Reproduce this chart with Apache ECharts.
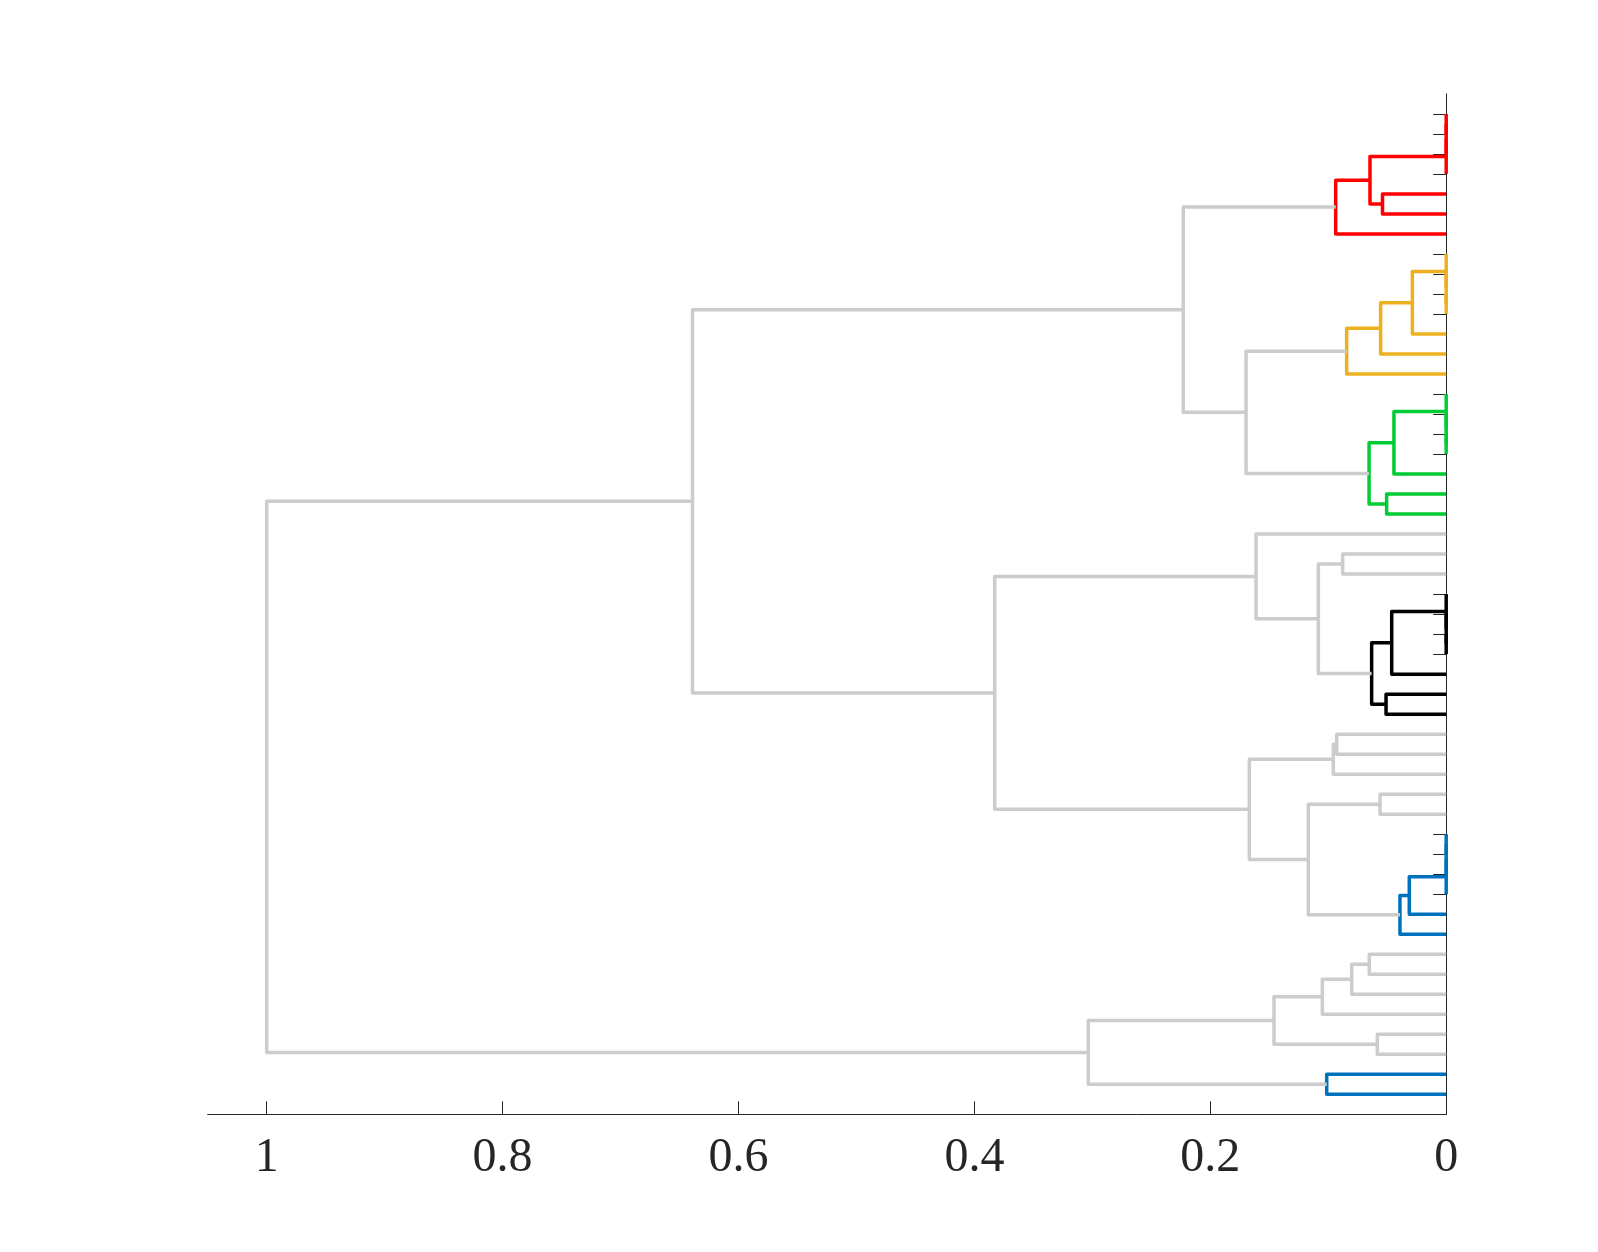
<!DOCTYPE html>
<html>
<head>
<meta charset="utf-8">
<script src="https://cdn.jsdelivr.net/npm/echarts@6/dist/echarts.min.js"></script>
<style>
  html, body { margin: 0; padding: 0; background: #fff; }
  #chart { width: 1598px; height: 1252px; }
</style>
</head>
<body>
<div id="chart"></div>
<script>
// leaves are numbered by their place on the right axis, 1 = bottom
const leafCount = 50;

// linkage rows [childA, childB, height]; row k makes cluster leafCount + 1 + k
const merges = [
  [50, 49, 0], [51, 48, 0], [52, 47, 0], [46, 45, 0.054], [53, 54, 0.0646], [55, 44, 0.0937],
  [41, 40, 0], [42, 57, 0], [43, 58, 0], [59, 39, 0.0287], [60, 38, 0.0556], [61, 37, 0.0844],
  [34, 33, 0], [35, 63, 0], [36, 64, 0], [65, 32, 0.0443], [31, 30, 0.0505], [66, 67, 0.0654],
  [62, 68, 0.1697], [56, 69, 0.2229],
  [24, 23, 0], [25, 71, 0], [26, 72, 0], [73, 22, 0.0462], [21, 20, 0.051], [74, 75, 0.0632],
  [28, 27, 0.0878], [77, 76, 0.1084], [29, 78, 0.1612],
  [19, 18, 0.0928], [80, 17, 0.0957], [16, 15, 0.0561],
  [14, 13, 0], [83, 12, 0], [84, 11, 0], [85, 10, 0.0313], [86, 9, 0.0392],
  [82, 87, 0.1169], [81, 88, 0.1669], [79, 89, 0.3828],
  [8, 7, 0.0652], [91, 6, 0.0801], [92, 5, 0.105], [4, 3, 0.0584], [93, 94, 0.146],
  [2, 1, 0.1013],
  [95, 96, 0.3034], [70, 90, 0.639], [98, 97, 1.0]
];

// colour group of each linkage row
const mergeGroup = [
  'red', 'red', 'red', 'red', 'red', 'red',
  'yellow', 'yellow', 'yellow', 'yellow', 'yellow', 'yellow',
  'green', 'green', 'green', 'green', 'green', 'green',
  'grey', 'grey',
  'black', 'black', 'black', 'black', 'black', 'black',
  'grey', 'grey', 'grey',
  'grey', 'grey', 'grey',
  'blue', 'blue', 'blue', 'blue', 'blue',
  'grey', 'grey', 'grey',
  'grey', 'grey', 'grey', 'grey', 'grey',
  'blue',
  'grey', 'grey', 'grey'
];

const groupColors = {
  red: '#ff0000',
  yellow: '#edb120',
  green: '#00cc33',
  black: '#000000',
  blue: '#0072bd',
  grey: '#cccccc'
};

const xTickValues = [0, 0.2, 0.4, 0.6, 0.8, 1];

const leaves = [];
for (let i = 1; i <= leafCount; i++) leaves.push(i);

const buildLinks = () => {
  const pos = {};
  const hgt = {};
  leaves.forEach((i) => { pos[i] = i; hgt[i] = 0; });
  const out = [];
  merges.forEach((m, k) => {
    const id = leafCount + 1 + k;
    const a = m[0], b = m[1], h = m[2];
    pos[id] = (pos[a] + pos[b]) / 2;
    hgt[id] = h;
    out.push({
      coords: [[hgt[a], pos[a]], [h, pos[a]], [h, pos[b]], [hgt[b], pos[b]]],
      lineStyle: { color: groupColors[mergeGroup[k]] }
    });
  });
  return out;
};

const axisColor = '#262626';
const chart = echarts.init(document.getElementById('chart'));

chart.setOption({
  backgroundColor: '#fff',
  animation: false,
  grid: { left: 207.7, right: 151.8, top: 93.9, bottom: 137.7 },
  xAxis: {
    type: 'value',
    min: 0,
    max: 1.05,
    inverse: true,
    splitLine: { show: false },
    axisLine: { show: true, lineStyle: { color: axisColor, width: 1 } },
    axisTick: { show: true, inside: true, length: 13, customValues: xTickValues,
      lineStyle: { color: axisColor, width: 1 } },
    axisLabel: {
      customValues: xTickValues,
      margin: 20,
      color: axisColor,
      fontFamily: 'Liberation Serif',
      fontSize: 48
    }
  },
  yAxis: {
    type: 'value',
    min: 0,
    max: leafCount + 1,
    position: 'right',
    splitLine: { show: false },
    axisLine: { show: true, onZero: false, lineStyle: { color: axisColor, width: 1 } },
    axisTick: { show: true, inside: true, length: 13, customValues: leaves,
      lineStyle: { color: axisColor, width: 1 } },
    axisLabel: { show: false, customValues: leaves }
  },
  series: [
    {
      type: 'lines',
      coordinateSystem: 'cartesian2d',
      polyline: true,
      clip: false,
      silent: true,
      lineStyle: { width: 3.5, opacity: 1, join: 'round', cap: 'butt' },
      data: buildLinks()
    }
  ]
});
</script>
</body>
</html>
